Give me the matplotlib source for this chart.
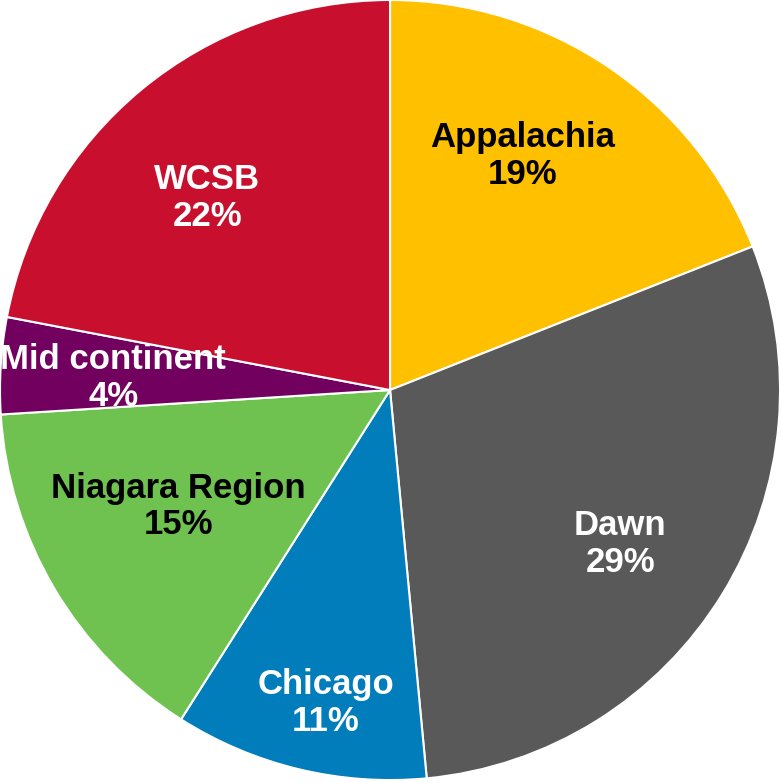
import numpy as np
import matplotlib.pyplot as plt

regions = ["Appalachia", "Dawn", "Chicago", "Niagara Region", "Mid continent", "WCSB"]
shares = [19.0, 29.5, 10.5, 15.0, 4.0, 22.0]
pct_labels = ["19%", "29%", "11%", "15%", "4%", "22%"]
colors = ["#FFC000", "#595959", "#007DBA", "#6FC24F", "#72005F", "#C8102E"]
text_colors = ["black", "white", "white", "black", "white", "white"]

# label placement (fraction of radius, angle nudge in degrees) - hand placed like the original
label_r = [0.69, 0.71, 0.82, 0.62, 0.71, 0.68]
label_dang = [4.7, -2.3, 1.9, -1.8, 1.1, 4.0]

plt.rcParams['font.family'] = ['Liberation Sans', 'DejaVu Sans']

fig = plt.figure(figsize=(7.82, 7.82), dpi=100)
ax = fig.add_axes([0, 0, 1, 1])

wedges, _ = ax.pie(shares, colors=colors, startangle=90, counterclock=False,
                   radius=1.0, wedgeprops=dict(edgecolor="white", linewidth=1.5))

for w, name, pct, c, r, da in zip(wedges, regions, pct_labels, text_colors, label_r, label_dang):
    ang = np.deg2rad((w.theta1 + w.theta2) / 2 + da)
    ax.text(r * np.cos(ang), r * np.sin(ang), name + "\n" + pct, color=c,
            fontsize=25, fontweight="bold", ha="center", va="center", linespacing=1.15)

ax.set_xlim(-1.0, 1.005)
ax.set_ylim(-1.005, 1.0)
ax.set_aspect("equal")
ax.axis("off")

fig.savefig("out.png", dpi=100)
